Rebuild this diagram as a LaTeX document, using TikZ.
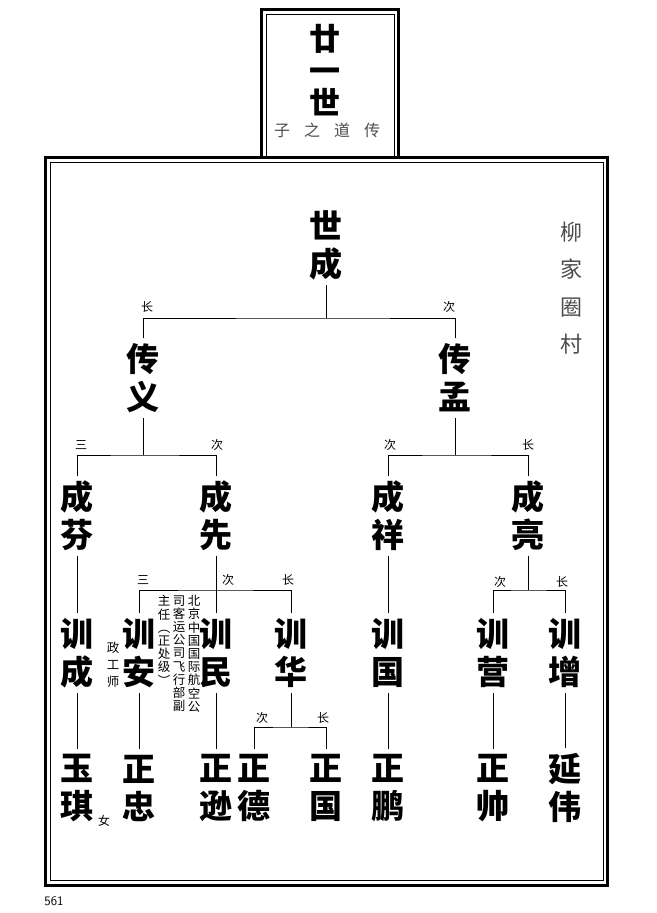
\documentclass[tikz,border=0pt]{standalone}
\usepackage{fontspec}
\newfontfamily\cjk{Noto Sans CJK SC}
\usetikzlibrary{calc}
\begin{document}
\begin{tikzpicture}[x=1pt,y=-1pt,line width=0.8pt,
  person/.style={font=\cjk\bfseries\fontsize{33}{38}\selectfont,align=center,inner xsep=0pt,inner ysep=5pt},
  rel/.style={font=\cjk\fontsize{12}{12}\selectfont,inner sep=0pt},
  note/.style={font=\cjk\fontsize{12.5}{13.2}\selectfont,align=center,inner sep=0pt,anchor=north},
  faint/.style={font=\cjk\fontsize{22}{37.5}\selectfont,align=center,text=black!70,inner sep=0pt}]
\useasboundingbox (0,0) rectangle (656,913);
% frames
\draw[line width=3pt] (261.5,157.5) |- (398.5,9) -- (398.5,157.5);
\draw (266,157.5) |- (394,14) -- (394,157.5);
\draw[line width=3pt] (45.5,157.5) rectangle (607.5,885.5);
\draw (50.7,162.7) rectangle (603,880.7);
\node[person,font=\cjk\bfseries\fontsize{31}{32}\selectfont,inner sep=0pt] (gen) at (325,70)
  {廿\\一\\世};
\node[font=\cjk\fontsize{16}{16}\selectfont,text=black!70,inner sep=0pt] (branch) at (327,130)
  {子\hspace{14pt}之\hspace{14pt}道\hspace{14pt}传};
\node[faint] (village) at (571,288) {柳\\家\\圈\\村};
% people
\node[person] (shicheng) at (326,245) {世\\成};
\node[person] (chuanyi) at (143,378) {传\\义};
\node[person] (chuanmeng) at (455,378) {传\\孟};
\node[person] (chengfen) at (77,516) {成\\芬};
\node[person] (chengxian) at (216,516) {成\\先};
\node[person] (chengxiang) at (388,516) {成\\祥};
\node[person] (chengliang) at (528,516) {成\\亮};
\node[person] (xuncheng) at (77,653) {训\\成};
\node[person] (xunan) at (139,653) {训\\安};
\node[person] (xunmin) at (216,653) {训\\民};
\node[person] (xunhua) at (291,653) {训\\华};
\node[person] (xunguo) at (388,653) {训\\国};
\node[person] (xunying) at (493,653) {训\\营};
\node[person] (xunzeng) at (565,653) {训\\增};
\node[person] (yuqi) at (77,788) {玉\\琪};
\node[person] (zhengzhong) at (139,788) {正\\忠};
\node[person] (zhengxun) at (216,788) {正\\逊};
\node[person] (zhengde) at (254,788) {正\\德};
\node[person] (zhengguo) at (326,788) {正\\国};
\node[person] (zhengpeng) at (388,788) {正\\鹏};
\node[person] (zhengshuai) at (493,788) {正\\帅};
\node[person] (yanwei) at (565,788) {延\\伟};
% notes
\node[note] (noteA) at (194,595) {北\\京\\中\\国\\国\\际\\航\\空\\公};
\node[note] (noteB) at (179,595) {司\\客\\运\\公\\司\\飞\\行\\部\\副};
\node[note] (noteC) at (164,595) {主\\任\\︵\\正\\处\\级\\︶};
\node[note,anchor=center,font=\cjk\fontsize{12.5}{17}\selectfont] (noteD) at (113,665) {政\\工\\师};
\node[rel] (female) at (104,821) {女};
\node[font=\sffamily\fontsize{13}{13}\selectfont,anchor=west,inner sep=0pt] (page) at (44,901) {561};
% junctions
\coordinate (j0) at (326,318);
\coordinate (j1) at (143,455);
\coordinate (j2) at (455,455);
\coordinate (j3) at (216,590);
\coordinate (j4) at (528,590);
\coordinate (j5) at (291,727);
\draw (shicheng.south) -- (j0);
\draw (chuanyi.north) |- (j0) -| (chuanmeng.north);
\draw (chuanyi.south) -- (j1);
\draw (chengfen.north) |- (j1) -| (chengxian.north);
\draw (chuanmeng.south) -- (j2);
\draw (chengxiang.north) |- (j2) -| (chengliang.north);
\draw (chengxian.south) -- (xunmin.north);
\draw (xunan.north) |- (j3) -| (xunhua.north);
\draw (chengliang.south) -- (j4);
\draw (xunying.north) |- (j4) -| (xunzeng.north);
\draw (xunhua.south) -- (j5);
\draw (zhengde.north) |- (j5) -| (zhengguo.north);
\draw (chengfen.south) -- (xuncheng.north);
\draw (chengxiang.south) -- (xunguo.north);
\draw (xuncheng.south) -- (yuqi.north);
\draw (xunan.south) -- (zhengzhong.north);
\draw (xunmin.south) -- (zhengxun.north);
\draw (xunguo.south) -- (zhengpeng.north);
\draw (xunying.south) -- (zhengshuai.north);
\draw (xunzeng.south) -- (yanwei.north);
% order of birth
\node[rel] at (147,307) {长};
\node[rel] at (449,307) {次};
\node[rel] at (81,445) {三};
\node[rel] at (217,445) {次};
\node[rel] at (390,445) {次};
\node[rel] at (528,445) {长};
\node[rel] at (143,580) {三};
\node[rel] at (228,580) {次};
\node[rel] at (288,580) {长};
\node[rel] at (500,582) {次};
\node[rel] at (562,582) {长};
\node[rel] at (262,718) {次};
\node[rel] at (323,718) {长};
\end{tikzpicture}
\end{document}
